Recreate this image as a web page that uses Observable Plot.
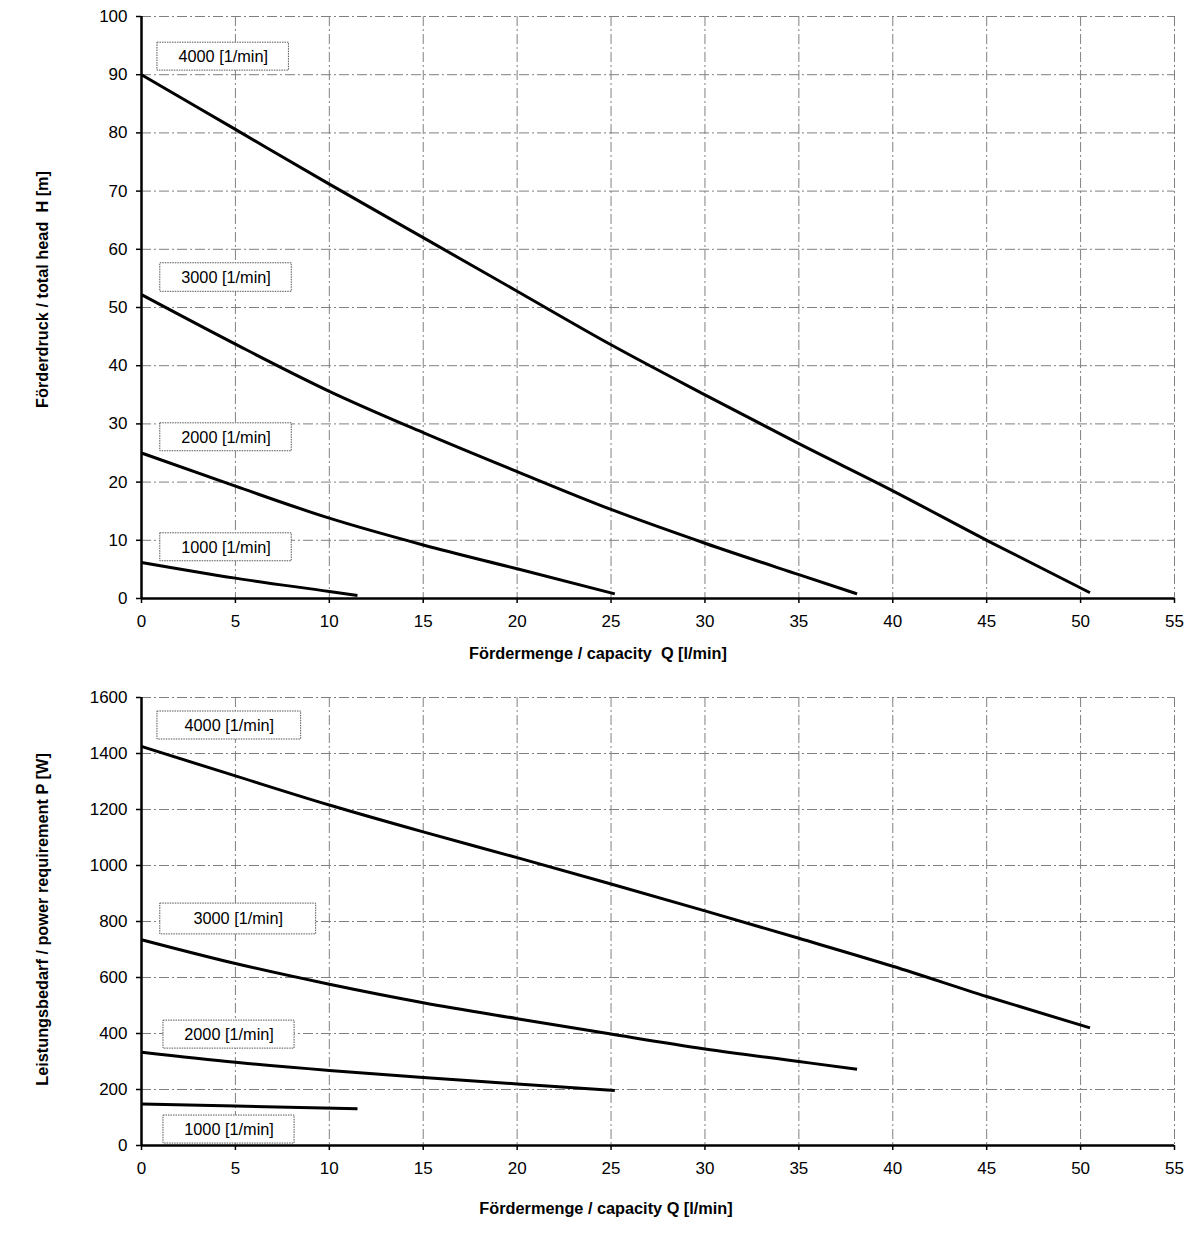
<!DOCTYPE html>
<html>
<head>
<meta charset="utf-8">
<script src="https://cdn.jsdelivr.net/npm/d3@7"></script>
<script src="https://cdn.jsdelivr.net/npm/@observablehq/plot@0.6"></script>
<style>
  html, body { margin: 0; padding: 0; background: #fff; }
  #charts { width: 1201px; }
  #charts svg { display: block; }
</style>
</head>
<body>
<div id="charts"></div>
<script>
// ---------- data ----------
const speeds = ["1000 [1/min]", "2000 [1/min]", "3000 [1/min]", "4000 [1/min]"];
const xTicks = [0, 5, 10, 15, 20, 25, 30, 35, 40, 45, 50, 55];
const headTicks = [0, 10, 20, 30, 40, 50, 60, 70, 80, 90, 100];
const powerTicks = [0, 200, 400, 600, 800, 1000, 1200, 1400, 1600];

// Head curves: [Q l/min, H m]
const head1000 = [[0, 6.2], [5, 3.5], [10, 1.2], [11.5, 0.5]];
const head2000 = [[0, 25], [5, 19.3], [10, 13.8], [15, 9.2], [20, 5.1], [25.2, 0.8]];
const head3000 = [[0, 52.2], [5, 43.7], [10, 35.6], [15, 28.5], [20, 21.8], [25, 15.3], [30, 9.5], [35, 4.1], [38.1, 0.8]];
const head4000 = [[0, 90], [5, 80.6], [10, 71.2], [15, 62], [20, 52.8], [25, 43.6], [30, 35], [35, 26.6], [40, 18.5], [45, 10], [50.5, 1]];

// Power curves: [Q l/min, P W]
const power1000 = [[0, 148], [5, 141], [11.5, 131]];
const power2000 = [[0, 333], [5, 297], [10, 268], [15, 243], [20, 220], [25.2, 196]];
const power3000 = [[0, 735], [5, 650], [10, 576], [15, 510], [20, 453], [25, 398], [30, 345], [35, 300], [38.1, 272]];
const power4000 = [[0, 1425], [5, 1320], [10, 1216], [15, 1120], [20, 1028], [25, 934], [30, 838], [35, 740], [40, 640], [45, 532], [50.5, 420]];

// Label boxes (data units): [x1, x2, y1, y2]
const headBoxes = [[1.0, 8.0, 6.4, 11.2], [1.0, 8.0, 25.3, 30.1], [1.0, 8.0, 52.7, 57.6], [0.85, 7.85, 90.7, 95.5]];
const powerBoxes = [[1.17, 8.15, 7, 107], [1.17, 8.15, 346, 446], [1.0, 9.3, 754, 864], [0.85, 8.5, 1450, 1550]];

const xTitle1 = "Fördermenge / capacity  Q [l/min]";
const xTitle2 = "Fördermenge / capacity Q [l/min]";
const yTitle1 = "Förderdruck / total head  H [m]";
const yTitle2 = "Leistungsbedarf / power requirement P [W]";

// ---------- build ----------
function rows(curves) {
  const out = [];
  curves.forEach((c, i) => c.forEach(([x, y]) => out.push({speed: speeds[i], x, y})));
  return out;
}
function boxRows(boxes) {
  return boxes.map(([x1, x2, y1, y2], i) => ({speed: speeds[i], x1, x2, y1, y2, xm: (x1 + x2) / 2, ym: (y1 + y2) / 2}));
}

const FONT = "'Liberation Sans', Arial, sans-serif";
const gridStyle = {stroke: "#808080", strokeOpacity: 1, strokeWidth: 1, strokeDasharray: "10,3,2,3"};

function chart({height, marginTop, marginBottom, yDomain, yTicks, curves, boxes, xTitle, yTitle, xTitleDx, xTitleDy, yTitleDy}) {
  return Plot.plot({
    width: 1201,
    height,
    marginLeft: 141,
    marginRight: 27,
    marginTop,
    marginBottom,
    style: {fontFamily: FONT, fontSize: "17px", color: "#000", background: "#fff", overflow: "visible"},
    x: {domain: [0, 55]},
    y: {domain: yDomain},
    marks: [
      Plot.gridX(xTicks.filter(d => d > 0), gridStyle),
      Plot.gridY(yTicks.filter(d => d > 0), gridStyle),
      Plot.axisX(xTicks, {tickSize: 5, tickPadding: 11, label: null, fontSize: 17, stroke: "#000", strokeWidth: 1.5, tickFormat: d3.format("d")}),
      Plot.axisY(yTicks, {tickSize: 5, tickPadding: 9, label: null, fontSize: 17, stroke: "#000", strokeWidth: 1.5, tickFormat: d3.format("d")}),
      Plot.ruleY([yDomain[0]], {stroke: "#000", strokeWidth: 2.5}),
      Plot.ruleX([0], {stroke: "#000", strokeWidth: 2.5}),
      Plot.rect(boxRows(boxes), {x1: "x1", x2: "x2", y1: "y1", y2: "y2", fill: "#fff", stroke: "#555", strokeWidth: 1, strokeDasharray: "1.5,1"}),
      Plot.text(boxRows(boxes), {x: "xm", y: "ym", text: "speed", fontSize: 16.3, fill: "#000"}),
      Plot.line(rows(curves), {x: "x", y: "y", z: "speed", curve: "monotone-x", stroke: "#000", strokeWidth: 3, strokeLinecap: "butt"}),
      Plot.text([xTitle], {frameAnchor: "bottom", textAnchor: "middle", lineAnchor: "middle", dx: xTitleDx, dy: xTitleDy, text: d => d, fontWeight: "bold", fontSize: 16.3, fill: "#000"}),
      Plot.text([yTitle], {frameAnchor: "left", textAnchor: "middle", lineAnchor: "middle", dx: -99, dy: yTitleDy, rotate: -90, text: d => d, fontWeight: "bold", fontSize: 16.3, fill: "#000"})
    ]
  });
}

const headChart = chart({
  height: 680, marginTop: 16, marginBottom: 82,
  yDomain: [0, 100], yTicks: headTicks,
  curves: [head1000, head2000, head3000, head4000], boxes: headBoxes,
  xTitle: xTitle1, yTitle: yTitle1, xTitleDx: -60, xTitleDy: 55, yTitleDy: -18
});
const powerChart = chart({
  height: 557, marginTop: 17, marginBottom: 92,
  yDomain: [0, 1600], yTicks: powerTicks,
  curves: [power1000, power2000, power3000, power4000], boxes: powerBoxes,
  xTitle: xTitle2, yTitle: yTitle2, xTitleDx: -52, xTitleDy: 63, yTitleDy: -2
});
document.getElementById("charts").append(headChart, powerChart);
</script>
</body>
</html>
